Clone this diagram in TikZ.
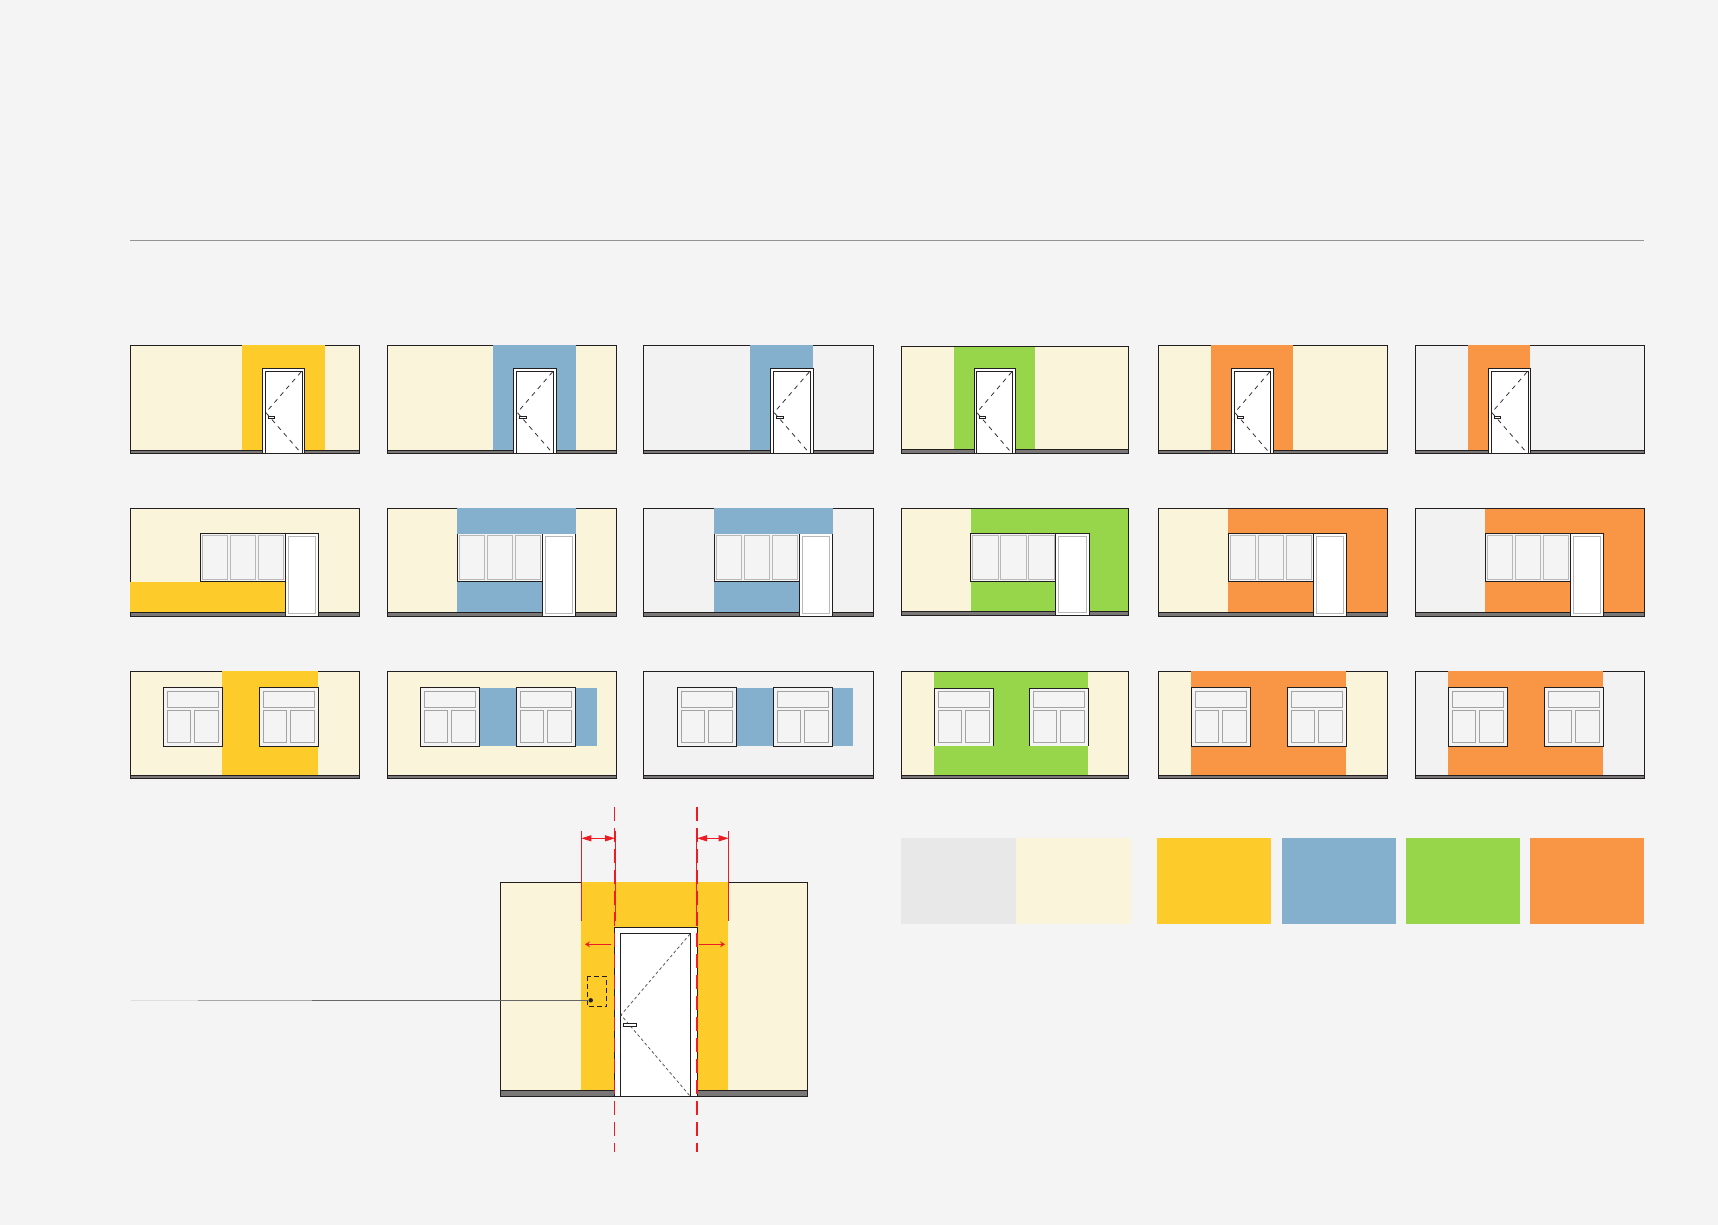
\documentclass[tikz,border=0pt]{standalone}
\usetikzlibrary{arrows.meta}
\definecolor{bg}{HTML}{F4F4F4}
\definecolor{cream}{HTML}{FAF4DA}
\definecolor{greywall}{HTML}{F2F2F2}
\definecolor{yel}{HTML}{FDCB2A}
\definecolor{blu}{HTML}{84B0CE}
\definecolor{grn}{HTML}{97D54A}
\definecolor{org}{HTML}{F99645}
\definecolor{ink}{HTML}{231F20}
\definecolor{floorc}{HTML}{7A7777}
\definecolor{redl}{HTML}{ED1C24}
\tikzset{
  edge/.style={draw=ink,line width=1pt},
  floorbar/.style={fill=floorc,draw=ink,line width=1pt},
  pane/.style={draw=#1,line width=1pt,fill=bg},
  pane/.default={black!28},
  diag/.style={draw=black!80,line width=.8pt,dash pattern=on 4.5pt off 4.5pt},
  reddim/.style={draw=redl,line width=1pt},
  reddash/.style={draw=redl,dash pattern=on 14pt off 7pt},
}
% wall: x1 x2 ytop yfloor ybottom colour
\newcommand{\wallfill}[6]{\fill[#6] (#1,#3) rectangle (#2,#5);}
\newcommand{\wallline}[5]{\draw[edge] (#1,#3) rectangle (#2,#5);
  \draw[floorbar] (#1,#4) rectangle (#2,#5);}
% door of row one: x width innerleft innerright
\newcommand{\doorone}[4]{%
  \draw[edge,fill=white] (#1,368.3) rectangle ({#1+#2},453.3);
  \draw[edge,fill=white] ({#1+#3},371.3) rectangle ({#1+#4},453.3);
  \draw[diag] ({#1+#4-1},372) -- ({#1+#3+.5},412.5) -- ({#1+#4-1},453);
  \draw[edge,fill=white] ({#1+#3+3},416.3) rectangle ({#1+#3+9.4},418.7);}
% window with door of row two: x bottom
\newcommand{\wintri}[2]{%
  \draw[edge,fill=bg] (#1,533.3) rectangle ({#1+85},581.3);
  \draw[pane] ({#1+2},535.3) rectangle ({#1+27.4},579.3);
  \draw[pane] ({#1+30},535.3) rectangle ({#1+55.4},579.3);
  \draw[pane] ({#1+58},535.3) rectangle ({#1+83.4},579.3);
  \draw[edge,fill=white] ({#1+85},533.3) rectangle ({#1+118.4},#2);
  \draw[pane=black!28,fill=white] ({#1+88},536.3) rectangle ({#1+115.2},{#2-3});}
% panes of a row three window
\newcommand{\dblpanes}[1]{%
  \draw[pane=black!36] ({#1+4},691.3) rectangle ({#1+55.4},707.3);
  \draw[pane=black!36] ({#1+4},710.3) rectangle ({#1+27.4},742.7);
  \draw[pane=black!36] ({#1+31},710.3) rectangle ({#1+55.4},742.7);}
\newcommand{\windbl}[1]{%
  \draw[edge,fill=bg] (#1,687.3) rectangle ({#1+59},746.7);
  \dblpanes{#1}}
\newcommand{\windblopen}[1]{%
  \fill[bg] (#1,688.3) rectangle ({#1+59},746);
  \draw[edge] (#1,746) -- (#1,688.3) -- ({#1+59},688.3) -- ({#1+59},746);
  \dblpanes{#1}}
\begin{document}
\begin{tikzpicture}[x=1pt,y=-1pt]
\useasboundingbox (0,0) rectangle (1718,1225);
\fill[bg] (0,0) rectangle (1718,1225);
\coordinate (ruleL) at (130,240.5);
\coordinate (ruleR) at (1644,240.5);
\draw[draw=black!42,line width=1pt] (ruleL) -- (ruleR);

% ---------- row one
\wallline{130.3}{359.3}{345.3}{450.3}{453.3}
\wallfill{130.8}{358.8}{345.8}{450.3}{450.3}{cream}
\fill[yel] (242,345) rectangle (324.7,450);
\doorone{262.3}{42.4}{3}{39.7}

\wallline{387.3}{616.3}{345.3}{450.3}{453.3}
\wallfill{387.8}{615.8}{345.8}{450.3}{450.3}{cream}
\fill[blu] (493,345) rectangle (576.3,450);
\doorone{513.8}{42.4}{3}{39.7}

\wallline{643.3}{873.7}{345.3}{450.3}{453.3}
\wallfill{643.8}{873.2}{345.8}{450.3}{450.3}{greywall}
\fill[blu] (750,345) rectangle (812.5,450);
\doorone{770.6}{42.4}{3}{39.7}

\wallline{901.3}{1128.7}{346.3}{449.3}{453.3}
\wallfill{901.8}{1128.2}{346.8}{449.3}{449.3}{cream}
\fill[grn] (953.7,346.8) rectangle (1035.3,449);
\doorone{974.3}{41.4}{2}{38.4}

\wallline{1158.2}{1387.3}{345.3}{450.3}{453.3}
\wallfill{1158.7}{1386.8}{345.8}{450.3}{450.3}{cream}
\fill[org] (1210.7,345) rectangle (1293,450);
\doorone{1231.3}{42}{3}{39.3}

\wallline{1415.3}{1644.3}{345.3}{450.3}{453.3}
\wallfill{1415.8}{1643.8}{345.8}{450.3}{450.3}{greywall}
\fill[org] (1468,345) rectangle (1530,450);
\doorone{1488.3}{42.4}{3}{39.7}

% ---------- row two
\wallline{130.3}{359.3}{508.3}{612.3}{616.3}
\wallfill{130.8}{358.8}{508.8}{612.3}{612.3}{cream}
\fill[yel] (130,582) rectangle (285.3,612);
\wintri{200.3}{616.3}

\wallline{387.3}{616.3}{508.3}{612.3}{616.3}
\wallfill{387.8}{615.8}{508.8}{612.3}{612.3}{cream}
\fill[blu] (457,508) rectangle (576.3,612);
\wintri{457.3}{616.3}
\fill[blu] (457,508) rectangle (576.3,534);

\wallline{643.3}{873.7}{508.3}{612.3}{616.3}
\wallfill{643.8}{873.2}{508.8}{612.3}{612.3}{greywall}
\fill[blu] (714,508) rectangle (833,612);
\wintri{714.3}{616.3}
\fill[blu] (714,508) rectangle (833,534);

\wallfill{901.3}{1128.7}{508.3}{611.8}{615.8}{cream}
\fill[grn] (971,508.3) rectangle (1128.7,611.8);
\wallline{901.3}{1128.7}{508.3}{611.8}{615.8}
\wintri{970.8}{615.8}

\wallfill{1158.2}{1387.3}{508.3}{612.3}{616.3}{cream}
\fill[org] (1228,508.3) rectangle (1387.3,612.3);
\wallline{1158.2}{1387.3}{508.3}{612.3}{616.3}
\wintri{1228.3}{616.3}

\wallfill{1415.3}{1644.3}{508.3}{612.3}{616.3}{greywall}
\fill[org] (1485.3,508.3) rectangle (1644.3,612.3);
\wallline{1415.3}{1644.3}{508.3}{612.3}{616.3}
\wintri{1485.3}{616.3}

% ---------- row three
\wallline{130.3}{359.3}{671.3}{775.3}{778.7}
\wallfill{130.8}{358.8}{671.8}{775.3}{775.3}{cream}
\fill[yel] (222.3,671) rectangle (318.3,775.3);
\windbl{163.3}
\windbl{259.3}

\wallline{387.3}{616.3}{671.3}{775.3}{778.7}
\wallfill{387.8}{615.8}{671.8}{775.3}{775.3}{cream}
\fill[blu] (479,688) rectangle (517,746);
\fill[blu] (575,688) rectangle (597,746);
\windbl{420.5}
\windbl{516.3}

\wallline{643.3}{873.7}{671.3}{775.3}{778.7}
\wallfill{643.8}{873.2}{671.8}{775.3}{775.3}{greywall}
\fill[blu] (735,688) rectangle (774,746);
\fill[blu] (832,688) rectangle (853,746);
\windbl{677.3}
\windbl{773.3}

\wallline{901.3}{1128.7}{671.3}{775.3}{778.7}
\wallfill{901.8}{1128.2}{671.8}{775.3}{775.3}{cream}
\fill[grn] (934.3,671.8) rectangle (1088,775.3);
\windblopen{934.3}
\windblopen{1029.0}

\wallline{1158.2}{1387.3}{671.3}{775.3}{778.7}
\wallfill{1158.7}{1386.8}{671.8}{775.3}{775.3}{cream}
\fill[org] (1191,671) rectangle (1346,775.3);
\windbl{1191}
\windbl{1287.2}

\wallline{1415.3}{1644.3}{671.3}{775.3}{778.7}
\wallfill{1415.8}{1643.8}{671.8}{775.3}{775.3}{greywall}
\fill[org] (1448,671) rectangle (1603,775.3);
\windbl{1448}
\windbl{1544.3}

% ---------- swatches
\fill[black!9] (901,838) rectangle (1016,924);
\fill[cream] (1016,838) rectangle (1131,924);
\fill[yel] (1157.2,838) rectangle (1271,924);
\fill[blu] (1282,838) rectangle (1395.8,924);
\fill[grn] (1406,838) rectangle (1519.8,924);
\fill[org] (1530.3,838) rectangle (1644.3,924);

% ---------- large elevation
\draw[edge,fill=cream] (500.3,882.3) rectangle (807.7,1096.3);
\fill[yel] (581,882) rectangle (728.3,1090.3);
\draw[floorbar] (500.3,1090.3) rectangle (807.7,1096.3);
\draw[edge,fill=white] (614.3,927.3) rectangle (697.7,1096.3);
\draw[edge,fill=white] (620.3,933.3) rectangle (690.7,1096.3);
\draw[draw=black!65,line width=.8pt,dash pattern=on 3pt off 2.5pt] (690,934) -- (621,1015) -- (690,1096);
\draw[edge,fill=white] (623.3,1023.3) rectangle (636.7,1026.7);
% box and leader
\draw[edge,dash pattern=on 5pt off 3pt] (587.3,976.3) rectangle (606.7,1006.7);
\node[circle,fill=ink,inner sep=0pt,minimum size=4.5pt] (dot) at (590.7,1000.3) {};
\coordinate (ldA) at (131,1000.3);
\coordinate (ldB) at (198,1000.3);
\coordinate (ldC) at (312,1000.3);
\draw[draw=black!13,line width=1pt] (ldA) -- (ldB);
\draw[draw=black!35,line width=1pt] (ldB) -- (ldC);
\draw[draw=black!60,line width=1pt] (ldC) -- (dot);
% red construction lines
\coordinate (cLt) at (614.3,807);
\coordinate (cLb) at (614.3,1152);
\coordinate (cRt) at (697,807);
\coordinate (cRb) at (697,1152);
\draw[reddash,line width=1pt] (cLt) -- (cLb);
\draw[reddash,line width=2pt] (cRt) -- (cRb);
\coordinate (e1t) at (581.3,831); \coordinate (e1b) at (581.3,921);
\coordinate (e2t) at (615.3,831); \coordinate (e2b) at (615.3,921);
\coordinate (e3t) at (696.7,831); \coordinate (e3b) at (696.7,921);
\coordinate (e4t) at (728.7,831); \coordinate (e4b) at (728.7,921);
\draw[reddim] (e1t) -- (e1b);
\draw[reddim] (e2t) -- (e2b);
\draw[reddim] (e3t) -- (e3b);
\draw[reddim] (e4t) -- (e4b);
\coordinate (d1) at (581.3,838.3); \coordinate (d2) at (615,838.3);
\coordinate (d3) at (697,838.3); \coordinate (d4) at (728.7,838.3);
\draw[reddim,{Triangle[length=10pt,width=6pt]}-{Triangle[length=10pt,width=6pt]}] (d1) -- (d2);
\draw[reddim,{Triangle[length=10pt,width=6pt]}-{Triangle[length=10pt,width=6pt]}] (d3) -- (d4);
\coordinate (a1) at (610.7,944.3); \coordinate (a2) at (585,944.3);
\coordinate (a3) at (699,944.3); \coordinate (a4) at (725,944.3);
\draw[reddim,-{Stealth[length=5pt,width=6pt,inset=2pt]}] (a1) -- (a2);
\draw[reddim,-{Stealth[length=5pt,width=6pt,inset=2pt]}] (a3) -- (a4);
\end{tikzpicture}
\end{document}
